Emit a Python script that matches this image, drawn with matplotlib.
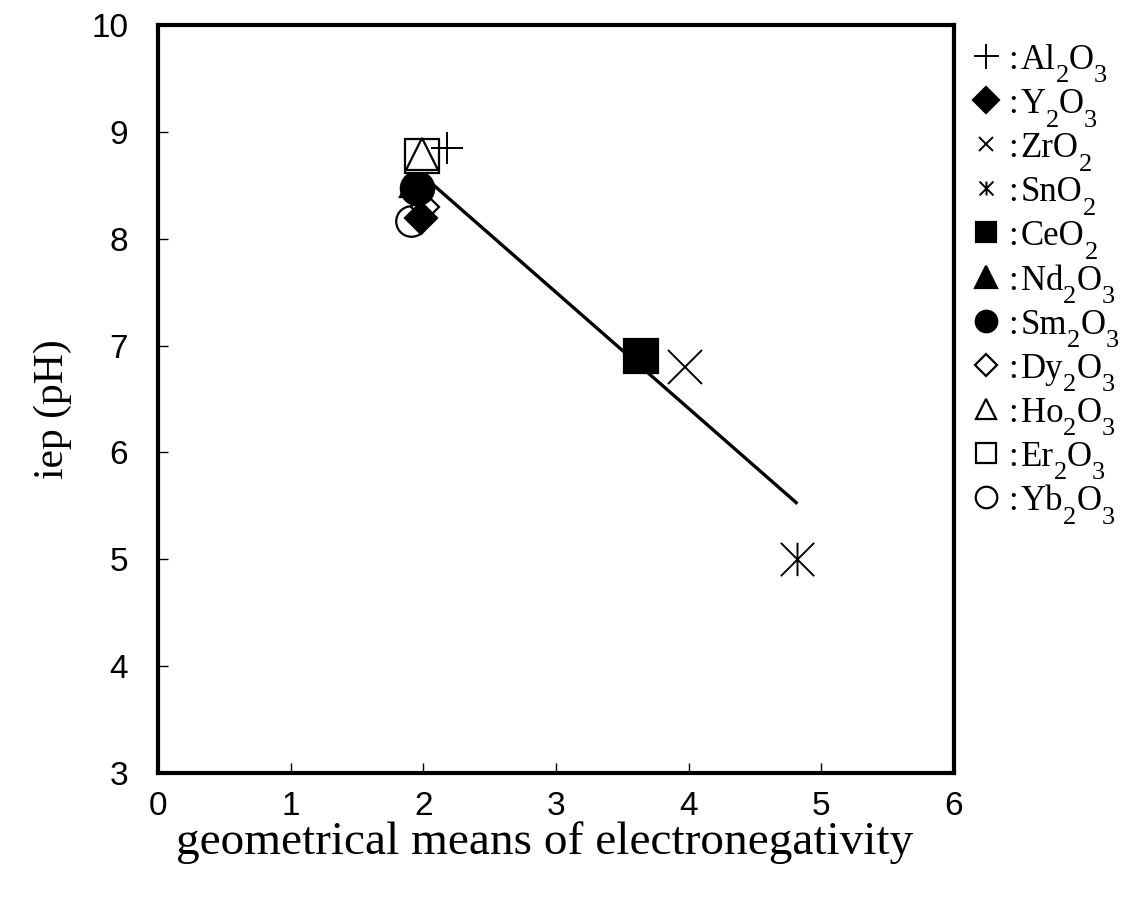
import re
import matplotlib
matplotlib.use("Agg")
import matplotlib.pyplot as plt
from matplotlib.path import Path

# Oxides: geometrical mean of electronegativity vs. isoelectric point
oxides = ["Al2O3", "Y2O3", "ZrO2", "SnO2", "CeO2", "Nd2O3",
          "Sm2O3", "Dy2O3", "Ho2O3", "Er2O3", "Yb2O3"]
electroneg = [2.18, 1.98, 3.97, 4.82, 3.64, 1.94, 1.95, 2.01, 1.99, 1.99, 1.91]
iep = [8.85, 8.19, 6.80, 5.00, 6.90, 8.53, 8.47, 8.30, 8.79, 8.77, 8.17]

# fitted trend line endpoints
fit_x = [1.95, 4.82]
fit_y = [8.64, 5.52]

x_ticks = [0, 1, 2, 3, 4, 5, 6]
y_ticks = [3, 4, 5, 6, 7, 8, 9, 10]

# asterisk: vertical stroke plus two diagonals
ASTERISK = Path([(0, -1), (0, 1), (-1, -1), (1, 1), (-1, 1), (1, -1)],
                [Path.MOVETO, Path.LINETO, Path.MOVETO, Path.LINETO,
                 Path.MOVETO, Path.LINETO])

# marker style per oxide: (marker, filled, plot size, legend size)
styles = {
    "Al2O3": ("+", True, 23, 18),
    "Y2O3": ("D", True, 16.5, 13.5),
    "ZrO2": ("x", True, 24, 10),
    "SnO2": (ASTERISK, True, 24, 10),
    "CeO2": ("s", True, 24, 14.5),
    "Nd2O3": ("^", True, 22, 16),
    "Sm2O3": ("o", True, 24, 15.5),
    "Dy2O3": ("D", False, 14, 11.5),
    "Ho2O3": ("^", False, 23, 15),
    "Er2O3": ("s", False, 24, 14.5),
    "Yb2O3": ("o", False, 22, 15.5),
}


def marker_kw(name, size):
    m, filled, _, _ = styles[name]
    if m in ("+", "x") or m is ASTERISK:
        return dict(marker=m, ms=size, color="black", mew=1.4, ls="none")
    return dict(marker=m, ms=size, ls="none", mfc="black" if filled else "white",
                mec="black", mew=1.6)


W, H = 1129, 899
fig = plt.figure(figsize=(W / 100, H / 100), dpi=100)
ax = fig.add_axes([158 / W, 1 - 773 / H, (954 - 158) / W, (773 - 25) / H])

ax.plot(fit_x, fit_y, color="black", lw=2.4, zorder=2, solid_capstyle="butt")

draw_order = ["Yb2O3", "Dy2O3", "Nd2O3", "Sm2O3", "Y2O3", "Er2O3", "Ho2O3",
              "Al2O3", "CeO2", "ZrO2", "SnO2"]
for name in draw_order:
    i = oxides.index(name)
    ax.plot(electroneg[i], iep[i], zorder=3, **marker_kw(name, styles[name][2]))

ax.set_xlim(0, 6)
ax.set_ylim(3, 10)
ax.set_xticks(x_ticks)
ax.set_yticks(y_ticks)
for sp in ax.spines.values():
    sp.set_linewidth(3)
ax.tick_params(direction="in", length=7, width=1, labelsize=24)
ax.tick_params(axis="x", pad=13)
ax.tick_params(axis="y", pad=21.5)
for lab in ax.get_xticklabels() + ax.get_yticklabels():
    lab.set_fontfamily("Liberation Sans")

ax.set_xlabel("geometrical means of electronegativity", family="Liberation Serif",
              fontsize=34)
ax.xaxis.set_label_coords(0.486, -0.065)
ax.set_ylabel("iep (pH)", family="Liberation Serif", fontsize=30)
ax.yaxis.set_label_coords(-0.108, 0.487)

# legend drawn on a pixel-space overlay
lax = fig.add_axes([0, 0, 1, 1])
lax.set_xlim(0, W)
lax.set_ylim(H, 0)
lax.axis("off")

renderer = fig.canvas.get_renderer()
row0, row_step = 56, 44.1
mark_x, text_x = 986, 1008
main_size, sub_size, sub_drop = 25, 19, 13.5
for k, name in enumerate(oxides):
    yc = row0 + k * row_step
    lax.plot(mark_x, yc, **marker_kw(name, styles[name][3]))
    base = yc + 13
    x = text_x
    colon = lax.text(x, base, ":", fontsize=main_size, family="Liberation Serif",
                     va="baseline", ha="left")
    x += colon.get_window_extent(renderer).width + 3
    for piece in re.findall(r"[A-Za-z]+|\d+", name):
        is_sub = piece.isdigit()
        t = lax.text(x, base + (sub_drop if is_sub else 0), piece,
                     fontsize=sub_size if is_sub else main_size,
                     family="Liberation Serif", va="baseline", ha="left")
        x += t.get_window_extent(renderer).width

fig.savefig("out.png", dpi=100)
